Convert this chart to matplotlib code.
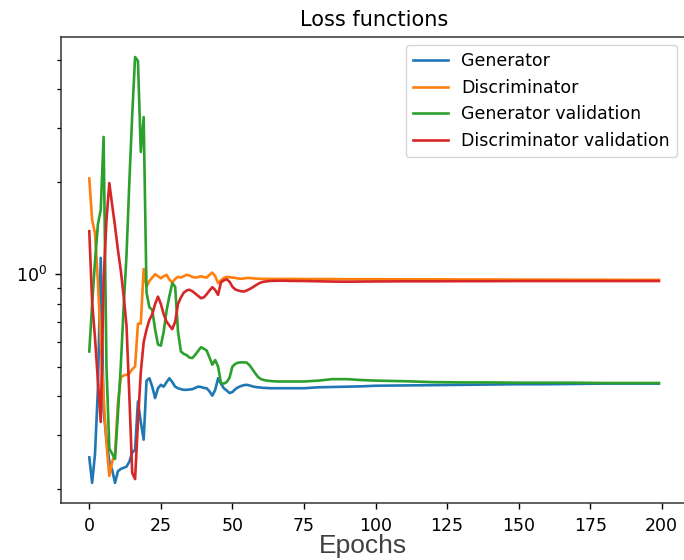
import matplotlib
matplotlib.use("Agg")
import matplotlib.pyplot as plt
from matplotlib.ticker import NullFormatter

epochs = list(range(0, 65)) + [66, 68, 70, 75, 80, 85, 90, 95, 100, 110, 120, 130,
                               140, 150, 160, 170, 180, 190, 199]

generator = [0.253, 0.209, 0.26, 0.42, 1.13, 0.36, 0.29, 0.245, 0.23, 0.209,
             0.228, 0.232, 0.234, 0.236, 0.245, 0.262, 0.268, 0.385, 0.33, 0.289,
             0.45, 0.458, 0.43, 0.395, 0.425, 0.436, 0.43, 0.445, 0.458, 0.445,
             0.43, 0.425, 0.422, 0.42, 0.42, 0.421, 0.422, 0.426, 0.43, 0.429,
             0.426, 0.425, 0.415, 0.402, 0.42, 0.458, 0.44, 0.425, 0.418, 0.41,
             0.413, 0.422, 0.428, 0.432, 0.435, 0.436, 0.434, 0.431, 0.429, 0.428,
             0.427, 0.426, 0.426, 0.425, 0.425,
             0.425, 0.425, 0.425, 0.425, 0.428, 0.429, 0.43, 0.431, 0.433, 0.434,
             0.435, 0.436, 0.437, 0.438, 0.438, 0.439, 0.44, 0.44, 0.44]

discriminator = [2.05, 1.5, 1.36, 0.95, 0.6, 0.4, 0.28, 0.22, 0.245, 0.26,
                 0.38, 0.46, 0.468, 0.47, 0.475, 0.49, 0.5, 0.69, 0.69, 1.04,
                 0.91, 0.95, 0.975, 1.0, 0.985, 0.97, 0.985, 0.995, 0.96, 0.94,
                 0.965, 0.98, 0.975, 0.985, 0.995, 0.99, 0.98, 0.975, 0.978, 0.985,
                 0.978, 0.975, 0.995, 1.012, 0.985, 0.935, 0.955, 0.972, 0.98, 0.978,
                 0.975, 0.972, 0.968, 0.966, 0.968, 0.972, 0.972, 0.97, 0.968, 0.967,
                 0.966, 0.965, 0.965, 0.965, 0.965,
                 0.965, 0.965, 0.965, 0.964, 0.964, 0.964, 0.963, 0.963, 0.963, 0.962,
                 0.962, 0.961, 0.961, 0.96, 0.96, 0.959, 0.959, 0.958, 0.958]

gen_validation = [0.56, 0.8, 1.1, 1.45, 1.62, 2.8, 0.5, 0.27, 0.26, 0.25,
                  0.35, 0.5, 0.78, 1.15, 2.0, 3.3, 5.1, 4.95, 2.5, 3.25,
                  0.87, 0.78, 0.765, 0.66, 0.59, 0.585, 0.65, 0.76, 0.85, 0.935,
                  0.91, 0.65, 0.56, 0.55, 0.545, 0.535, 0.533, 0.546, 0.562, 0.578,
                  0.572, 0.564, 0.535, 0.507, 0.525, 0.5, 0.442, 0.44, 0.445, 0.46,
                  0.5, 0.51, 0.515, 0.516, 0.516, 0.515, 0.505, 0.49, 0.475, 0.462,
                  0.455, 0.452, 0.45, 0.449, 0.448,
                  0.447, 0.447, 0.447, 0.447, 0.45, 0.455, 0.455, 0.452, 0.45, 0.448,
                  0.445, 0.444, 0.444, 0.443, 0.443, 0.443, 0.442, 0.442, 0.442]

disc_validation = [1.38, 0.81, 0.62, 0.45, 0.33, 0.95, 1.5, 1.98, 1.68, 1.43,
                   1.2, 1.03, 0.85, 0.68, 0.4, 0.225, 0.215, 0.33, 0.48, 0.6,
                   0.66, 0.71, 0.74, 0.8, 0.845, 0.8, 0.74, 0.7, 0.68, 0.662,
                   0.7, 0.8, 0.84, 0.87, 0.885, 0.89, 0.88, 0.865, 0.85, 0.835,
                   0.84, 0.86, 0.885, 0.907, 0.888, 0.856, 0.94, 0.955, 0.963, 0.945,
                   0.91, 0.892, 0.885, 0.88, 0.878, 0.885, 0.894, 0.905, 0.918, 0.93,
                   0.94, 0.945, 0.948, 0.95, 0.951,
                   0.952, 0.952, 0.951, 0.95, 0.948, 0.946, 0.945, 0.946, 0.947, 0.948,
                   0.948, 0.949, 0.949, 0.95, 0.95, 0.95, 0.95, 0.95, 0.95]

labels = ["Generator", "Discriminator", "Generator validation", "Discriminator validation"]
colors = ["#1f77b4", "#ff7f0e", "#2ca02c", "#d62728"]

fig = plt.figure(figsize=(6.84, 5.6), dpi=100)
ax = fig.add_axes([0.0889, 0.1009, 0.916, 0.8336])

for series, lab, col in zip([generator, discriminator, gen_validation, disc_validation],
                            labels, colors):
    ax.plot(epochs, series, color=col, lw=1.9, label=lab)

ax.set_yscale("log")
ax.set_ylim(0.179, 5.94)
ax.set_xlim(-9.95, 208.95)
ax.set_xticks([0, 25, 50, 75, 100, 125, 150, 175, 200])
ax.yaxis.set_minor_formatter(NullFormatter())

for s in ax.spines.values():
    s.set_linewidth(1.1)
    s.set_color("#333333")
ax.spines["right"].set_visible(False)
ax.tick_params(axis="both", which="major", labelsize=12.5, length=4.5, width=1.0, pad=5)
ax.tick_params(axis="y", which="minor", length=3, width=0.9)

ax.set_title("Loss functions", fontsize=15, pad=8)
ax.set_xlabel("Epochs", fontsize=19, color="#404040", family="Liberation Sans")
ax.xaxis.set_label_coords(0.482, -0.066)

ax.legend(loc="upper right", fontsize=12.5, borderaxespad=0,
          bbox_to_anchor=(677 / 684, 1 - 45 / 560), bbox_transform=fig.transFigure)

fig.savefig("out.png", dpi=100)
